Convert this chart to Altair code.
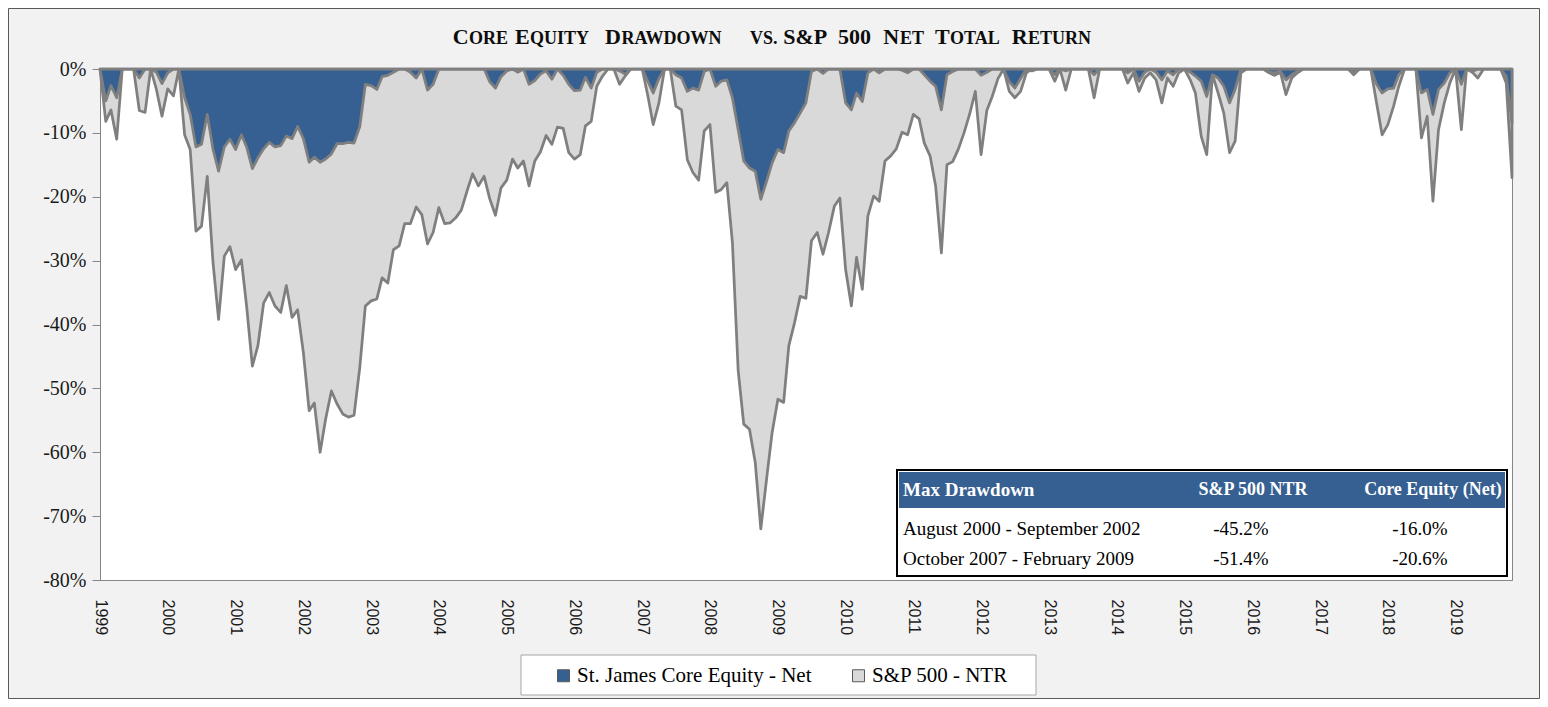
import altair as alt
import pandas as pd

# ---------------- data ----------------
start_month = "1999-01-01"

sp500_ntr = [
    0, -8.2, -6.4, -11.0, 0, 0, 0, -6.5, -6.8, 0, -3.2, -7.4, -3.1, -4.2, 0, -10.3,
    -12.6, -25.4, -24.6, -16.8, -30.3, -39.2, -29.3, -27.8, -31.4, -29.9, -37.1, -46.5, -43.3, -36.6, -35.0, -37.1,
    -38.1, -33.9, -38.9, -37.7, -44.4, -53.5, -52.3, -60.0, -54.8, -50.4, -52.4, -54.0, -54.5, -54.2, -46.7, -37.1,
    -36.3, -36.0, -32.7, -33.5, -28.3, -27.7, -24.2, -24.2, -21.6, -22.8, -27.4, -25.6, -21.7, -24.2, -24.1, -23.3,
    -22.1, -19.1, -16.4, -18.3, -16.8, -20.3, -22.9, -18.6, -17.4, -14.1, -15.5, -14.4, -18.3, -14.4, -13.0, -10.4,
    -11.8, -9.1, -9.3, -13.1, -14.1, -13.4, -8.9, -8.2, -2.7, -1.1, 0, 0, -2.4, -1.1, 0, 0,
    0, -4.3, -8.7, -5.3, 0, 0, -5.8, -6.4, -14.2, -16.2, -17.4, -9.7, -8.7, -19.3, -18.9, -17.8,
    -27.2, -47.2, -55.6, -56.4, -61.6, -72.0, -64.2, -56.9, -51.7, -52.2, -43.3, -39.7, -35.6, -35.9, -26.9, -25.6,
    -29.0, -25.6, -21.5, -20.2, -31.4, -37.1, -29.5, -34.5, -23.0, -19.9, -20.7, -14.4, -13.6, -12.5, -9.9, -10.3,
    -7.1, -7.8, -11.6, -13.6, -18.3, -28.8, -15.0, -14.5, -12.5, -10.0, -7.0, -3.5, -13.4, -6.5, -4.3, -1.5,
    0, -3.5, -4.5, -3.5, -0.6, 0, 0, 0, 0, -1.9, 0, -3.3, 0, 0, 0, 0,
    -4.5, 0, 0, 0, 0, 0, -2.2, -0.6, -3.5, -1.4, -0.6, -1.7, -5.3, -1.4, -2.7, -0.6,
    0, -1.7, -3.75, -10.5, -13.4, -0.9, -3.75, -6.9, -13.1, -11.3, -0.6, 0, 0, 0, 0, -0.6,
    -1.0, -0.5, -4.0, -1.4, -0.6, 0, 0, 0, 0, 0, 0, 0, 0, 0, -0.9, 0,
    0, 0, -5.3, -10.3, -8.7, -5.8, -2.7, 0, 0, 0, -10.8, -7.4, -20.7, -9.5, -5.3, -2.2,
    0, -9.5, 0, -0.5, -1.4, 0, 0, 0, 0, -2.2, -17.0,
]

core_equity = [
    0, -5.0, -2.6, -4.5, 0, 0, 0, -1.4, 0, 0, -0.5, -2.3, -0.6, 0, 0, -4.5,
    -7.1, -12.2, -11.8, -7.1, -12.6, -16.0, -12.2, -11.0, -12.6, -10.3, -12.2, -15.6, -13.9, -12.5, -11.5, -12.2,
    -12.0, -10.5, -10.9, -9.0, -10.9, -14.6, -13.8, -14.6, -14.1, -13.3, -11.7, -11.7, -11.5, -11.6, -9.0, -2.4,
    -2.6, -3.2, -1.2, -1.0, -0.5, 0, 0, -0.5, -1.4, 0, -3.3, -2.4, 0, 0, 0, 0,
    0, 0, 0, 0, 0, -2.0, -3.0, -1.2, -0.3, 0, -0.5, 0, -2.4, -1.8, -0.8, -0.3,
    -1.6, 0, -1.0, -2.4, -3.4, -3.3, -1.3, -3.0, -0.5, 0, 0, 0, -0.3, -0.8, 0, 0,
    0, -2.0, -3.75, -1.5, 0, 0, -0.9, -1.4, -3.5, -3.0, -3.3, -0.4, 0, -2.7, -1.9, -1.7,
    -4.5, -9.5, -14.4, -15.5, -16.0, -20.4, -17.6, -14.7, -12.6, -13.1, -9.7, -8.4, -6.9, -5.3, -0.4, 0,
    -0.7, 0, 0, 0, -5.3, -6.4, -3.75, -5.1, -0.6, 0, -0.6, 0, 0, 0, -0.2, -0.6,
    0, 0, -0.9, -1.9, -2.7, -6.4, -0.9, -0.4, 0, 0, 0, 0, -1.0, -0.5, 0, 0,
    0, -2.0, -3.0, -1.5, 0, -0.3, 0, 0, 0, -0.9, 0, -0.3, 0, 0, 0, 0,
    -0.9, 0, 0, 0, 0, 0, -0.6, 0, -1.9, -0.5, 0, -0.5, -1.7, -0.3, -0.9, 0,
    0, -0.5, -1.1, -1.9, -4.3, -0.9, -1.4, -2.7, -5.3, -3.2, 0, 0, 0, 0, 0, -0.5,
    -0.6, -0.4, -1.7, -0.9, -0.4, 0, 0, 0, 0, 0, 0, 0, 0, 0, -0.6, 0,
    0, 0, -2.4, -3.75, -3.1, -3.0, -0.9, 0, 0, 0, -3.75, -3.2, -7.1, -3.2, -2.2, -0.6,
    0, -2.4, 0, -0.4, 0, 0, 0, 0, 0, -1.1, -8.5,
]

series_names = ["St. James Core Equity - Net", "S&P 500 - NTR"]
year_ticks = list(range(1999, 2020))
y_ticks = [0, -10, -20, -30, -40, -50, -60, -70, -80]

title_pieces = ["C", "ORE", "E", "QUITY", "D", "RAWDOWN", "VS.", "S&P", "500",
                "N", "ET", "T", "OTAL", "R", "ETURN"]
title_is_cap = [True, False, True, False, True, False, False, True, True,
                True, False, True, False, True, False]

table_header = ["Max Drawdown", "S&P 500 NTR", "Core Equity (Net)"]
table_periods = ["August 2000 - September 2002", "October 2007 - February 2009"]
table_sp = ["-45.2%", "-51.4%"]
table_ce = ["-16.0%", "-20.6%"]

# ---------------- layout / style ----------------
BLUE = "#366092"
GREY = "#d9d9d9"
OUTLINE = "#7f7f7f"
AXIS = "#868686"
SERIF = "Liberation Serif"
W, H = 1412, 511

title_x = [352.7, 369, 415, 430, 505, 521.5, 650, 683.3, 738,
           783.3, 800, 835, 850, 911.7, 928]
title_baseline = -25
CAP_SIZE, SMALL_SIZE = 22, 18

dates = pd.date_range(start_month, periods=len(sp500_ntr), freq="MS")
df_sp = pd.DataFrame({"date": dates, "value": sp500_ntr, "series": series_names[1]})
df_ce = pd.DataFrame({"date": dates, "value": core_equity, "series": series_names[0]})
dummy = pd.DataFrame({"k": [0]})

x_enc = alt.X(
    "date:T", title=None,
    scale=alt.Scale(domain=[alt.DateTime(year=1999, month=1, date=1),
                            alt.DateTime(year=2019, month=11, date=1)], nice=False),
    axis=alt.Axis(values=[alt.DateTime(year=y, month=1, date=1) for y in year_ticks],
                  format="%Y", labelAngle=90, labelFont="Liberation Sans", labelFontSize=16,
                  labelColor="#1a1a1a", ticks=False, labelPadding=19, domainColor=AXIS,
                  grid=False, labelOverlap=False),
)
y_enc = alt.Y(
    "value:Q", title=None, stack=None,
    scale=alt.Scale(domain=[-80, 0], nice=False),
    axis=alt.Axis(values=y_ticks, labelExpr="datum.value + '%'", labelFont=SERIF,
                  labelFontSize=20, labelColor="#1a1a1a", tickColor=AXIS, tickSize=8,
                  labelPadding=6, domainColor=AXIS, grid=False),
)
fill_enc = alt.Fill(
    "series:N",
    scale=alt.Scale(domain=series_names, range=[BLUE, GREY]),
    legend=alt.Legend(title=None, orient="none", legendX=453, legendY=596,
                      direction="horizontal", symbolType="square", symbolSize=144,
                      symbolStrokeColor="#595959", symbolStrokeWidth=1,
                      labelFont=SERIF, labelFontSize=21, labelColor="black",
                      labelLimit=400, columnPadding=36, labelOffset=3, padding=0),
)

sp_area = alt.Chart(df_sp).mark_area(
    stroke=OUTLINE, strokeWidth=2.75, strokeJoin="round", fillOpacity=1
).encode(x=x_enc, y=y_enc, fill=fill_enc)

ce_area = alt.Chart(df_ce).mark_area(
    stroke=OUTLINE, strokeWidth=2.75, strokeJoin="round", fillOpacity=1
).encode(x=x_enc, y=y_enc, fill=fill_enc)


def box(x, x2, y, y2, fill, stroke, sw, fo=1):
    return alt.Chart(dummy).mark_rect(
        fill=fill, fillOpacity=fo, stroke=stroke, strokeWidth=sw
    ).encode(x=alt.value(x), x2=alt.value(x2), y=alt.value(y), y2=alt.value(y2))


def label(text, x, y, size, bold=False, color="black", align="left", baseline="middle"):
    return alt.Chart(dummy).mark_text(
        text=text, font=SERIF, fontSize=size, fontWeight="bold" if bold else "normal",
        color=color, align=align, baseline=baseline
    ).encode(x=alt.value(x), y=alt.value(y))


frame = box(-91.5, 1439.5, -60.5, 629.5, "white", "#595959", 1, fo=0)
legend_box = box(421, 936, 586, 626, "white", "#a6a6a6", 1)
table_box = box(797, 1407, 401, 507, "white", "black", 2)
table_head = box(799, 1405, 403, 439, BLUE, BLUE, 0)

texts = [
    label(table_header[0], 803, 421, 19, bold=True, color="white"),
    label(table_header[1], 1153, 421, 18, bold=True, color="white", align="center"),
    label(table_header[2], 1333, 421, 18, bold=True, color="white", align="center"),
]
row_y = [460, 490]
for i in range(len(table_periods)):
    texts.append(label(table_periods[i], 803, row_y[i], 19))
    texts.append(label(table_sp[i], 1141, row_y[i], 19, align="center"))
    texts.append(label(table_ce[i], 1320, row_y[i], 19, align="center"))

title_marks = [
    label(t, x, title_baseline, CAP_SIZE if cap else SMALL_SIZE, bold=True,
          color="#0d0d0d", baseline="alphabetic")
    for t, x, cap in zip(title_pieces, title_x, title_is_cap)
]

chart = alt.layer(
    frame, sp_area, ce_area, legend_box, table_box, table_head, *texts, *title_marks
).properties(
    width=W, height=H, background="#f2f2f2",
    padding={"left": 92, "top": 61, "right": 28, "bottom": 119},
    autosize=alt.AutoSizeParams(type="none"),
).configure_view(fill="white", stroke=AXIS, strokeWidth=1)

chart.save("out.html", embed_options={"renderer": "svg", "actions": False})
